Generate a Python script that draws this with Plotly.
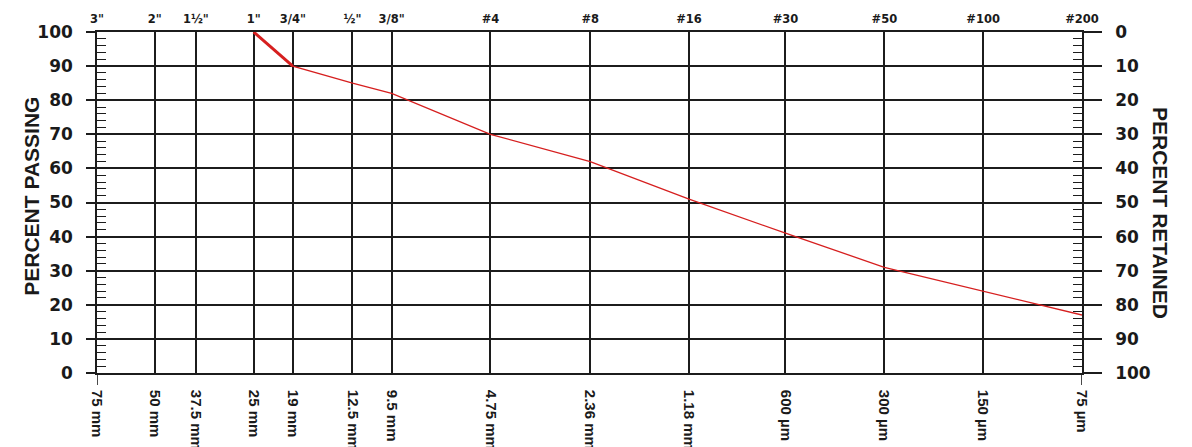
import math
import plotly.graph_objects as go

# Sieve openings (mm), coarse to fine
sieve_mm = [75, 50, 37.5, 25, 19, 12.5, 9.5, 4.75, 2.36, 1.18, 0.6, 0.3, 0.15, 0.075]
size_labels = ["75 mm", "50 mm", "37.5 mm", "25 mm", "19 mm", "12.5 mm", "9.5 mm",
               "4.75 mm", "2.36 mm", "1.18 mm", "600 µm", "300 µm", "150 µm", "75 µm"]
sieve_names = ['3"', '2"', '1½"', '1"', '3/4"', '½"', '3/8"',
               "#4", "#8", "#16", "#30", "#50", "#100", "#200"]

# Gradation test result
test_mm = [25, 19, 12.5, 9.5, 4.75, 2.36, 1.18, 0.6, 0.3, 0.15, 0.075]
percent_passing = [100, 90, 85, 82, 70, 62, 51, 41, 31, 24, 17]

LINE = "#1c1c1c"
RED = "#d61f1f"
SANS = "Liberation Sans, Arial, sans-serif"
WIDE = "DejaVu Sans, sans-serif"

xr = [math.log10(sieve_mm[0]), math.log10(sieve_mm[-1])]
minor_vals = [v for v in range(0, 101, 2) if v % 10]

fig = go.Figure()

fig.add_trace(go.Scatter(x=test_mm, y=percent_passing, mode="lines",
                         line=dict(color=RED, width=1.3), hoverinfo="skip",
                         showlegend=False))
# heavier stroke on the first segment
fig.add_trace(go.Scatter(x=test_mm[:2], y=percent_passing[:2], mode="lines",
                         line=dict(color=RED, width=3), hoverinfo="skip",
                         showlegend=False))
# invisible trace to carry the top / right axes
fig.add_trace(go.Scatter(x=[sieve_mm[0]], y=[0], xaxis="x2", yaxis="y2",
                         mode="markers", marker=dict(opacity=0),
                         hoverinfo="skip", showlegend=False))

common_y = dict(
    dtick=10, tick0=0, showgrid=True, gridcolor=LINE, gridwidth=1.6,
    ticks="outside", tickcolor=LINE, tickwidth=1.6, automargin=False,
    tickfont=dict(family=WIDE, size=17, color="#1a1a1a", weight="bold"),
    zeroline=False, showline=True, linecolor=LINE, linewidth=1.6,
    minor=dict(tickmode="array", tickvals=minor_vals, ticks="inside", ticklen=9,
               tickcolor=LINE, tickwidth=1.2, showgrid=False),
)

fig.update_layout(
    width=1192, height=447,
    margin=dict(l=97, r=110, t=32, b=74),
    paper_bgcolor="white", plot_bgcolor="white",
    xaxis=dict(type="log", range=xr, tickmode="array", tickvals=sieve_mm,
               ticktext=size_labels, tickangle=90, ticks="", automargin=False,
               showgrid=True, gridcolor=LINE, gridwidth=1.6,
               zeroline=False, showline=True, mirror=True,
               linecolor=LINE, linewidth=1.6, ticklabelstandoff=12,
               tickfont=dict(family=SANS, size=15, color="#1a1a1a", weight="bold")),
    xaxis2=dict(type="log", range=xr, overlaying="x", side="top", automargin=False,
                tickmode="array", tickvals=sieve_mm, ticktext=sieve_names,
                ticks="", showgrid=False, zeroline=False, showline=False,
                ticklabelstandoff=6,
                tickfont=dict(family=WIDE, size=11.5, color="#1a1a1a", weight="bold")),
    yaxis=dict(range=[0, 100], side="left", ticklen=9, ticklabelstandoff=10,
               **common_y),
    yaxis2=dict(range=[100, 0], side="right", overlaying="y", ticklen=18,
                ticklabelstandoff=10, **common_y),
)

# short ticks below the two outer sieve lines
for s in (sieve_mm[0], sieve_mm[-1]):
    fig.add_shape(type="line", x0=s, x1=s, xref="x", y0=0, y1=-0.035, yref="paper",
                  line=dict(color=LINE, width=1.6))

fig.add_annotation(text="PERCENT PASSING", x=-0.081, xref="paper", y=0.519, yref="paper",
                   textangle=-90, showarrow=False,
                   font=dict(family=SANS, size=21, color="#1a1a1a", weight="bold"))
fig.add_annotation(text="PERCENT RETAINED", x=1.094, xref="paper", y=0.469, yref="paper",
                   textangle=90, showarrow=False,
                   font=dict(family=SANS, size=21, color="#1a1a1a", weight="bold"))

fig.write_html("out.html")
